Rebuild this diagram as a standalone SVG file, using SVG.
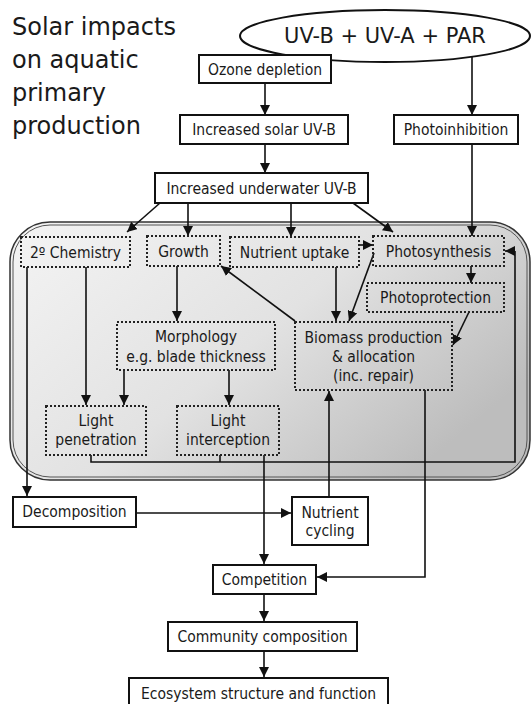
<svg xmlns="http://www.w3.org/2000/svg" width="532" height="704" viewBox="0 0 532 704">
<defs>
<linearGradient id="bg" x1="0" y1="0" x2="1" y2="0.6">
<stop offset="0" stop-color="#f4f4f4"/>
<stop offset="0.55" stop-color="#e2e2e2"/>
<stop offset="1" stop-color="#bdbdbd"/>
</linearGradient>
<marker id="ah" viewBox="0 0 10 10" refX="10" refY="5" markerWidth="10" markerHeight="10" markerUnits="userSpaceOnUse" orient="auto">
<path d="M0,0 L10,5 L0,10 z" fill="#111"/>
</marker>
</defs>
<style>
text{font-family:"DejaVu Sans Condensed","DejaVu Sans",sans-serif;fill:#1a1a1a;text-anchor:middle;font-size:15.5px}
.title{font-family:"DejaVu Sans",sans-serif;font-size:24px;text-anchor:start}
.big{font-family:"DejaVu Sans",sans-serif;font-size:21px}
.solid{fill:#fff;stroke:#111;stroke-width:2}
.dot{fill:none;stroke:#222;stroke-width:2;stroke-dasharray:2 2}
.c{fill:none;stroke:#111;stroke-width:1.6}
.a{marker-end:url(#ah)}
</style>
<g id="title">
<text class="title" x="12" y="35">Solar impacts</text>
<text class="title" x="12" y="68">on aquatic</text>
<text class="title" x="12" y="101">primary</text>
<text class="title" x="12" y="134">production</text>
</g>
<g id="panel">
<rect x="10" y="222" width="520" height="258" rx="40" fill="url(#bg)" stroke="#333" stroke-width="1.5"/>
<rect x="13" y="225" width="514" height="252" rx="37" fill="none" stroke="#555" stroke-width="1"/>
</g>
<g id="connectors">
<path class="c a" d="M265,83 V115"/>
<path class="c a" d="M265,144 V173"/>
<path class="c a" d="M472,48 V115"/>
<path class="c a" d="M472,144 V236"/>
<path class="c a" d="M160,203 L127,232"/>
<path class="c a" d="M188,203 V236"/>
<path class="c a" d="M291,203 V237"/>
<path class="c a" d="M353,203 L393,232"/>
<path class="c a" d="M358,245 H373"/>
<path class="c a" d="M374,253 L349,321"/>
<path class="c a" d="M336,267 V321"/>
<path class="c a" d="M471,266 V283"/>
<path class="c a" d="M469,312 L453,345"/>
<path class="c a" d="M295,321 L221,266"/>
<path class="c a" d="M177,266 V321"/>
<path class="c a" d="M86,267 V405"/>
<path class="c a" d="M27,267 V496"/>
<path class="c a" d="M124,370 V405"/>
<path class="c a" d="M229,370 V405"/>
<path class="c" d="M91,455 V462 H515 V251"/>
<path class="c a" d="M515,251 H505"/>
<path class="c" d="M220,455 V462"/>
<path class="c a" d="M264,455 V564"/>
<path class="c a" d="M329,497 V391"/>
<path class="c a" d="M425,390 V577 H317"/>
<path class="c a" d="M136,513 H291"/>
<path class="c a" d="M264,594 V621"/>
<path class="c a" d="M264,651 V677"/>
</g>
<g id="source">
<ellipse cx="385" cy="36" rx="145" ry="26" fill="#fff" stroke="#111" stroke-width="2"/>
<text class="big" x="385" y="43">UV-B + UV-A + PAR</text>
</g>
<g id="ozone"><rect class="solid" x="199" y="55" width="132" height="28"/><text x="265" y="75">Ozone depletion</text></g>
<g id="solar"><rect class="solid" x="180" y="115" width="168" height="29"/><text x="264" y="135">Increased solar UV-B</text></g>
<g id="photoinhibition"><rect class="solid" x="394" y="115" width="124" height="29"/><text x="456" y="135">Photoinhibition</text></g>
<g id="underwater"><rect class="solid" x="155" y="173" width="213" height="30"/><text x="261.5" y="194">Increased underwater UV-B</text></g>
<g id="chemistry"><rect class="dot" x="21" y="237" width="109" height="30"/><text x="75.5" y="257.5">2º Chemistry</text></g>
<g id="growth"><rect class="dot" x="147" y="236" width="73" height="30"/><text x="183.5" y="257">Growth</text></g>
<g id="nutrient-uptake"><rect class="dot" x="230" y="237" width="129" height="30"/><text x="294.5" y="257.5">Nutrient uptake</text></g>
<g id="photosynthesis"><rect class="dot" x="373" y="236" width="131" height="30"/><text x="438.5" y="257">Photosynthesis</text></g>
<g id="photoprotection"><rect class="dot" x="367" y="283" width="137" height="29"/><text x="435.5" y="303">Photoprotection</text></g>
<g id="morphology"><rect class="dot" x="117" y="322" width="158" height="48"/><text x="196" y="342">Morphology</text><text x="196" y="362">e.g. blade thickness</text></g>
<g id="biomass"><rect class="dot" x="295" y="322" width="157" height="68"/><text x="373.5" y="343">Biomass production</text><text x="373.5" y="362">&amp; allocation</text><text x="373.5" y="381">(inc. repair)</text></g>
<g id="light-penetration"><rect class="dot" x="46" y="406" width="100" height="49"/><text x="96" y="426">Light</text><text x="96" y="445">penetration</text></g>
<g id="light-interception"><rect class="dot" x="177" y="406" width="102" height="49"/><text x="228" y="426">Light</text><text x="228" y="445">interception</text></g>
<g id="decomposition"><rect class="solid" x="13" y="497" width="123" height="30"/><text x="74.5" y="517">Decomposition</text></g>
<g id="nutrient-cycling"><rect class="solid" x="292" y="497" width="76" height="48"/><text x="330" y="518">Nutrient</text><text x="330" y="536">cycling</text></g>
<g id="competition"><rect class="solid" x="213" y="565" width="103" height="29"/><text x="264.5" y="585">Competition</text></g>
<g id="community"><rect class="solid" x="168" y="622" width="189" height="29"/><text x="262.5" y="642">Community composition</text></g>
<g id="ecosystem"><rect class="solid" x="129" y="678" width="259" height="32"/><text x="258.5" y="699">Ecosystem structure and function</text></g>
</svg>
